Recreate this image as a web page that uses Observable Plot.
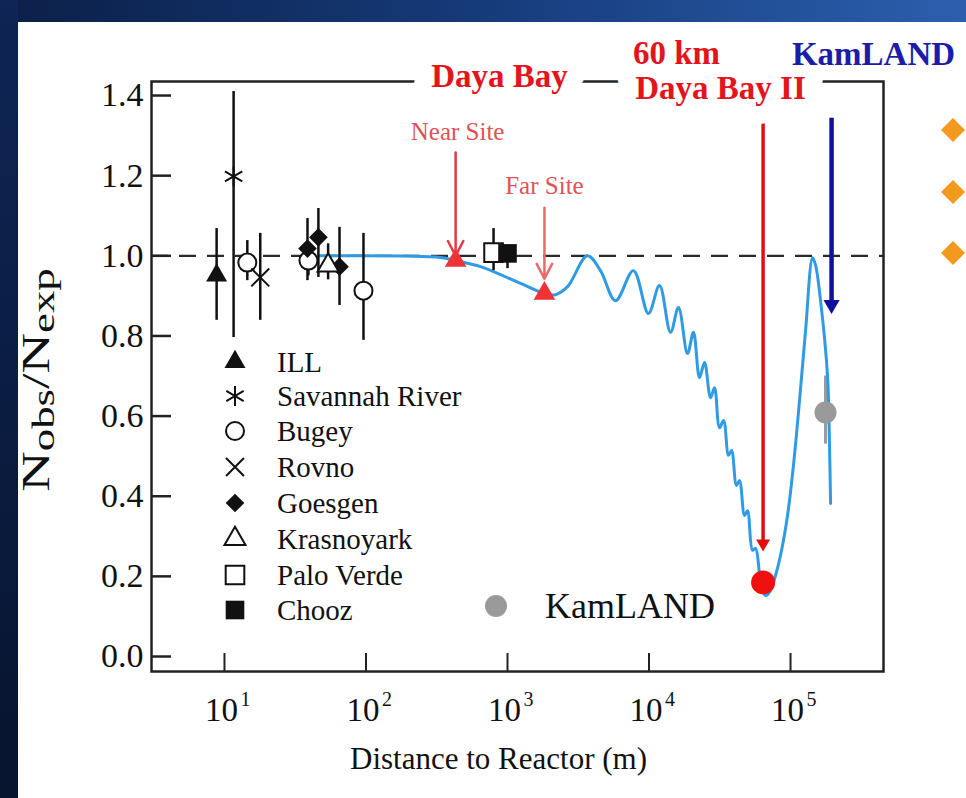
<!DOCTYPE html>
<html><head><meta charset="utf-8">
<script src="https://cdn.jsdelivr.net/npm/d3@7"></script>
<script src="https://cdn.jsdelivr.net/npm/@observablehq/plot@0.6"></script>
<style>
html,body{margin:0;padding:0;}
body{width:966px;height:798px;overflow:hidden;position:relative;
  background:linear-gradient(90deg,#0b1f48 0%,#163b7a 50%,#2b5fae 100%);
  font-family:"Liberation Serif","Times New Roman",serif;color:#111;}
#leftband{position:absolute;left:0;top:0;width:18px;height:798px;background:linear-gradient(180deg,#0e2555,#07142e);}
#panel{position:absolute;left:18px;top:22px;right:0;bottom:0;background:#fff;}
#chart{position:absolute;left:0;top:0;}
#ylabel{position:absolute;left:37px;top:380px;transform:translate(-50%,-50%) rotate(-90deg) scaleX(1.4);font-size:40px;white-space:nowrap;}
#ylabel sub{font-size:0.8em;vertical-align:-0.18em;}
.leg{position:absolute;font-size:29px;white-space:nowrap;transform:translateY(-50%);}
.bullet{position:absolute;width:17px;height:17px;background:#f39a1e;transform:translate(-50%,-50%) rotate(45deg);}
</style>
</head><body>
<div id="leftband"></div>
<div id="panel"></div>
<div id="chart"></div>
<div id="ylabel">N<sub>obs</sub>/N<sub>exp</sub></div>
<div id="legend"></div>
<div class="bullet" style="left:953px;top:130px"></div>
<div class="bullet" style="left:953px;top:192px"></div>
<div class="bullet" style="left:953px;top:253px"></div>
<script>
// ---------- data ----------
const xTicks = [10, 100, 1000, 10000, 100000];
const yTicks = [0, 0.2, 0.4, 0.6, 0.8, 1.0, 1.2, 1.4];

const expNames = ["ILL","Savannah River","Bugey","Rovno","Goesgen","Krasnoyark","Palo Verde","Chooz"];
const ptExp   = ["ILL","Savannah River","Bugey","Rovno","Goesgen","Bugey","Goesgen","Krasnoyark","Goesgen","Bugey","Palo Verde","Chooz"];
const ptDist  = [8.8, 11.6, 14.5, 17.9, 38.6, 39.2, 46.1, 54, 65, 96, 797, 1000];
const ptRatio = [0.951, 1.198, 0.983, 0.946, 1.018, 0.988, 1.046, 0.976, 0.973, 0.913, 1.008, 1.006];
const ptLo    = [0.839, 0.796, 0.938, 0.839, 0.938, 0.950, 0.946, 0.940, 0.876, 0.789, 0.963, 0.968];
const ptHi    = [1.068, 1.410, 1.038, 1.056, 1.093, 1.030, 1.118, 1.030, 1.071, 1.056, 1.068, 1.026];

// Daya Bay sites, Daya Bay II (60 km), KamLAND
const dybSites = ["Near Site", "Far Site"];
const dybDist  = [430, 1824];
const dybRatio = [0.988, 0.906];
const db2Dist  = [64000];
const db2Ratio = [0.185];
const kamDist  = [176700];
const kamRatio = [0.609];
const kamLo    = [0.53];
const kamHi    = [0.70];

// expected oscillation curve
const curveDist  = [47.7, 336, 430, 644, 893, 1237, 1824, 2183, 2655, 3673, 4539, 5796, 7762, 9908, 11860, 14190, 16150, 18710, 20610, 22750, 24670, 27220, 29040, 31490, 33640, 36480, 38300, 41520, 43610, 47320, 49680, 53850, 56580, 61370, 66560, 72220, 78300, 84940, 95240, 104900, 115800, 127700, 143200, 150400, 163000, 182500, 188700, 191900];
const curveRatio = [1.0, 0.996, 0.988, 0.973, 0.953, 0.931, 0.906, 0.903, 0.923, 1.0, 0.963, 0.888, 0.963, 0.856, 0.926, 0.809, 0.871, 0.756, 0.809, 0.696, 0.734, 0.646, 0.671, 0.571, 0.589, 0.502, 0.514, 0.427, 0.439, 0.352, 0.364, 0.265, 0.270, 0.190, 0.152, 0.165, 0.202, 0.252, 0.352, 0.477, 0.639, 0.813, 0.995, 0.976, 0.888, 0.701, 0.522, 0.382];

// annotation arrows (distance, start ratio, head ratio)
const arrowNames = ["Near Site", "Far Site", "60 km", "KamLAND"];
const arrowDist  = [430, 1824, 64000, 195000];
const arrowFrom  = [1.258, 1.12, 1.343, 1.343];
const arrowTo    = [1.0, 0.943, 0.282, 0.878];

// annotation labels
const siteLabelDist  = [444, 1824];
const siteLabelRatio = [1.310, 1.175];
const topLabels      = ["Daya Bay", "Daya Bay II", "60 km", "KamLAND"];
const topLabelDist   = [877, 31990, 15630, 386000];
const topLabelRatio  = [1.447, 1.418, 1.505, 1.502];

// ---------- build ----------
const pts = ptExp.map((e, i) => ({exp: e, d: ptDist[i], r: ptRatio[i], lo: ptLo[i], hi: ptHi[i]}));
const curve = curveDist.map((d, i) => ({d, r: curveRatio[i]}));
const dyb = dybSites.map((s, i) => ({s, d: dybDist[i], r: dybRatio[i]}));
const db2 = db2Dist.map((d, i) => ({d, r: db2Ratio[i]}));
const kam = kamDist.map((d, i) => ({d, r: kamRatio[i], lo: kamLo[i], hi: kamHi[i]}));
const arrows = arrowNames.map((n, i) => ({n, d: arrowDist[i], y1: arrowFrom[i], y2: arrowTo[i]}));
const siteLabels = dybSites.map((s, i) => ({s, d: siteLabelDist[i], r: siteLabelRatio[i]}));
const tops = topLabels.map((t, i) => ({t, d: topLabelDist[i], r: topLabelRatio[i]}));
const arr = n => arrows.filter(a => a.n === n);

const symStyle = {
  "ILL": {symbol: "triangle", r: 7.8, fill: "#111", stroke: "none"},
  "Savannah River": {symbol: "asterisk", r: 9.5, fill: "none", stroke: "#111", strokeWidth: 2},
  "Bugey": {symbol: "circle", r: 9, fill: "#fff", stroke: "#111", strokeWidth: 2},
  "Rovno": {symbol: "times", r: 8.2, fill: "none", stroke: "#111", strokeWidth: 2},
  "Goesgen": {symbol: "diamond2", r: 8.4, fill: "#111", stroke: "none"},
  "Krasnoyark": {symbol: "triangle", r: 7.8, fill: "#fff", stroke: "#111", strokeWidth: 2},
  "Palo Verde": {symbol: "square", r: 10.5, fill: "#fff", stroke: "#111", strokeWidth: 2},
  "Chooz": {symbol: "square", r: 10.5, fill: "#111", stroke: "none"}
};

const red = "#e3141c";
const serif = "'Liberation Serif','Times New Roman',serif";

const marks = [
  Plot.ruleY([1], {stroke: "#2a2a2a", strokeWidth: 2.2, strokeDasharray: "17,11"}),
  Plot.ruleX(kam, {x: "d", y1: "lo", y2: "hi", stroke: "#9c9c9c", strokeWidth: 3}),
  Plot.line(curve, {x: "d", y: "r", stroke: "#2f9be4", strokeWidth: 3, curve: "catmull-rom"}),
  Plot.ruleX(pts, {x: "d", y1: "lo", y2: "hi", stroke: "#111", strokeWidth: 2.5}),
  ...expNames.map(e => Plot.dot(pts.filter(p => p.exp === e), {x: "d", y: "r", ...symStyle[e]})),
  Plot.dot(dyb, {x: "d", y: "r", symbol: "triangle", r: 8, fill: "#ee3236"}),
  Plot.dot(kam, {x: "d", y: "r", r: 11, fill: "#9a9a9a"}),
  // arrows
  Plot.arrow(arr("Near Site"), {x1: "d", x2: "d", y1: "y1", y2: "y2", stroke: "#e8383f", strokeWidth: 2.5, headLength: 10, headAngle: 55}),
  Plot.arrow(arr("Far Site"), {x1: "d", x2: "d", y1: "y1", y2: "y2", stroke: "#e86b6b", strokeWidth: 2.5, headLength: 10, headAngle: 55}),
  Plot.ruleX(arr("60 km"), {x: "d", y1: "y1", y2: "y2", stroke: "#e01010", strokeWidth: 3.5}),
  Plot.dot(arr("60 km"), {x: "d", y: "y2", symbol: "triangle", rotate: 180, r: 5.2, fill: "#e01010"}),
  Plot.ruleX(arr("KamLAND"), {x: "d", y1: "y1", y2: "y2", stroke: "#10109a", strokeWidth: 4.5}),
  Plot.dot(arr("KamLAND"), {x: "d", y: "y2", symbol: "triangle", rotate: 180, r: 6, fill: "#10109a"}),
  Plot.dot(db2, {x: "d", y: "r", r: 12, fill: "#f01010"}),
  // frame + ticks
  Plot.frame({stroke: "#222", strokeWidth: 2.5}),
  Plot.tickY(yTicks, {y: d => d, stroke: "#222", strokeWidth: 2.5, insetRight: 712}),
  Plot.tickX(xTicks, {x: d => d, stroke: "#222", strokeWidth: 2, insetTop: 572}),
  // tick labels
  Plot.text(yTicks, {y: d => d, frameAnchor: "left", dx: -8, textAnchor: "end", text: d => d.toFixed(1), fontSize: 34, fill: "#111"}),
  Plot.text(xTicks, {x: d => d, frameAnchor: "bottom", dy: 49, dx: -3, text: () => "10", fontSize: 33, fill: "#111"}),
  Plot.text(xTicks, {x: d => d, frameAnchor: "bottom", dy: 34, dx: 21, text: d => String(Math.round(Math.log10(d))), fontSize: 20, fill: "#111"}),
  Plot.text(["Distance to Reactor (m)"], {frameAnchor: "bottom", dy: 97, dx: -19, text: d => d, fontSize: 31, fill: "#111"}),
  // site labels
  Plot.text(siteLabels, {x: "d", y: "r", text: "s", fontSize: 25, fill: "#e05252"}),
  // top labels (white halo hides the frame line behind)
  Plot.text(tops.filter(t => t.t === "Daya Bay" || t.t === "Daya Bay II"), {x: "d", y: "r", text: "t", fontSize: 33, fontWeight: "bold", fill: red, stroke: "white", strokeWidth: 36}),
  Plot.text(tops.filter(t => t.t === "60 km"), {x: "d", y: "r", text: "t", fontSize: 33, fontWeight: "bold", fill: red}),
  Plot.text(tops.filter(t => t.t === "KamLAND"), {x: "d", y: "r", text: "t", fontSize: 33, fontWeight: "bold", fill: "#1c1ca8"})
];

const chart = Plot.plot({
  width: 966, height: 798,
  marginLeft: 151, marginRight: 83, marginTop: 81, marginBottom: 127,
  x: {type: "log", domain: [3.05, 454000], axis: null},
  y: {domain: [-0.0374, 1.435], axis: null},
  style: {background: "transparent", fontFamily: serif, fontSize: "30px", color: "#111", overflow: "visible"},
  marks
});
document.getElementById("chart").appendChild(chart);

// ---------- legend (HTML overlay) ----------
const legRowY = [362, 396, 431, 467, 503, 539, 575, 610];
const legend = document.getElementById("legend");
const d3sym = {triangle: d3.symbolTriangle, asterisk: d3.symbolAsterisk, circle: d3.symbolCircle, times: d3.symbolTimes, diamond2: d3.symbolDiamond2, square: d3.symbolSquare};
expNames.forEach((e, i) => {
  const s = symStyle[e];
  const svg = d3.create("svg").attr("width", 30).attr("height", 30)
    .style("position", "absolute").style("left", (235 - 15) + "px").style("top", (legRowY[i] - 15) + "px");
  svg.append("path").attr("transform", "translate(15,15)")
    .attr("d", d3.symbol(d3sym[s.symbol], Math.PI * s.r * s.r)())
    .attr("fill", s.fill).attr("stroke", s.stroke).attr("stroke-width", s.strokeWidth || 0);
  legend.appendChild(svg.node());
  const t = document.createElement("div");
  t.className = "leg"; t.textContent = e;
  t.style.left = "277px"; t.style.top = legRowY[i] + "px";
  legend.appendChild(t);
});
const ksvg = d3.create("svg").attr("width", 30).attr("height", 30)
  .style("position", "absolute").style("left", (496 - 15) + "px").style("top", (606 - 15) + "px");
ksvg.append("circle").attr("cx", 15).attr("cy", 15).attr("r", 11).attr("fill", "#9a9a9a");
legend.appendChild(ksvg.node());
const kt = document.createElement("div");
kt.className = "leg"; kt.textContent = "KamLAND";
kt.style.left = "545px"; kt.style.top = "606px"; kt.style.fontSize = "36px";
legend.appendChild(kt);
</script>
</body></html>
